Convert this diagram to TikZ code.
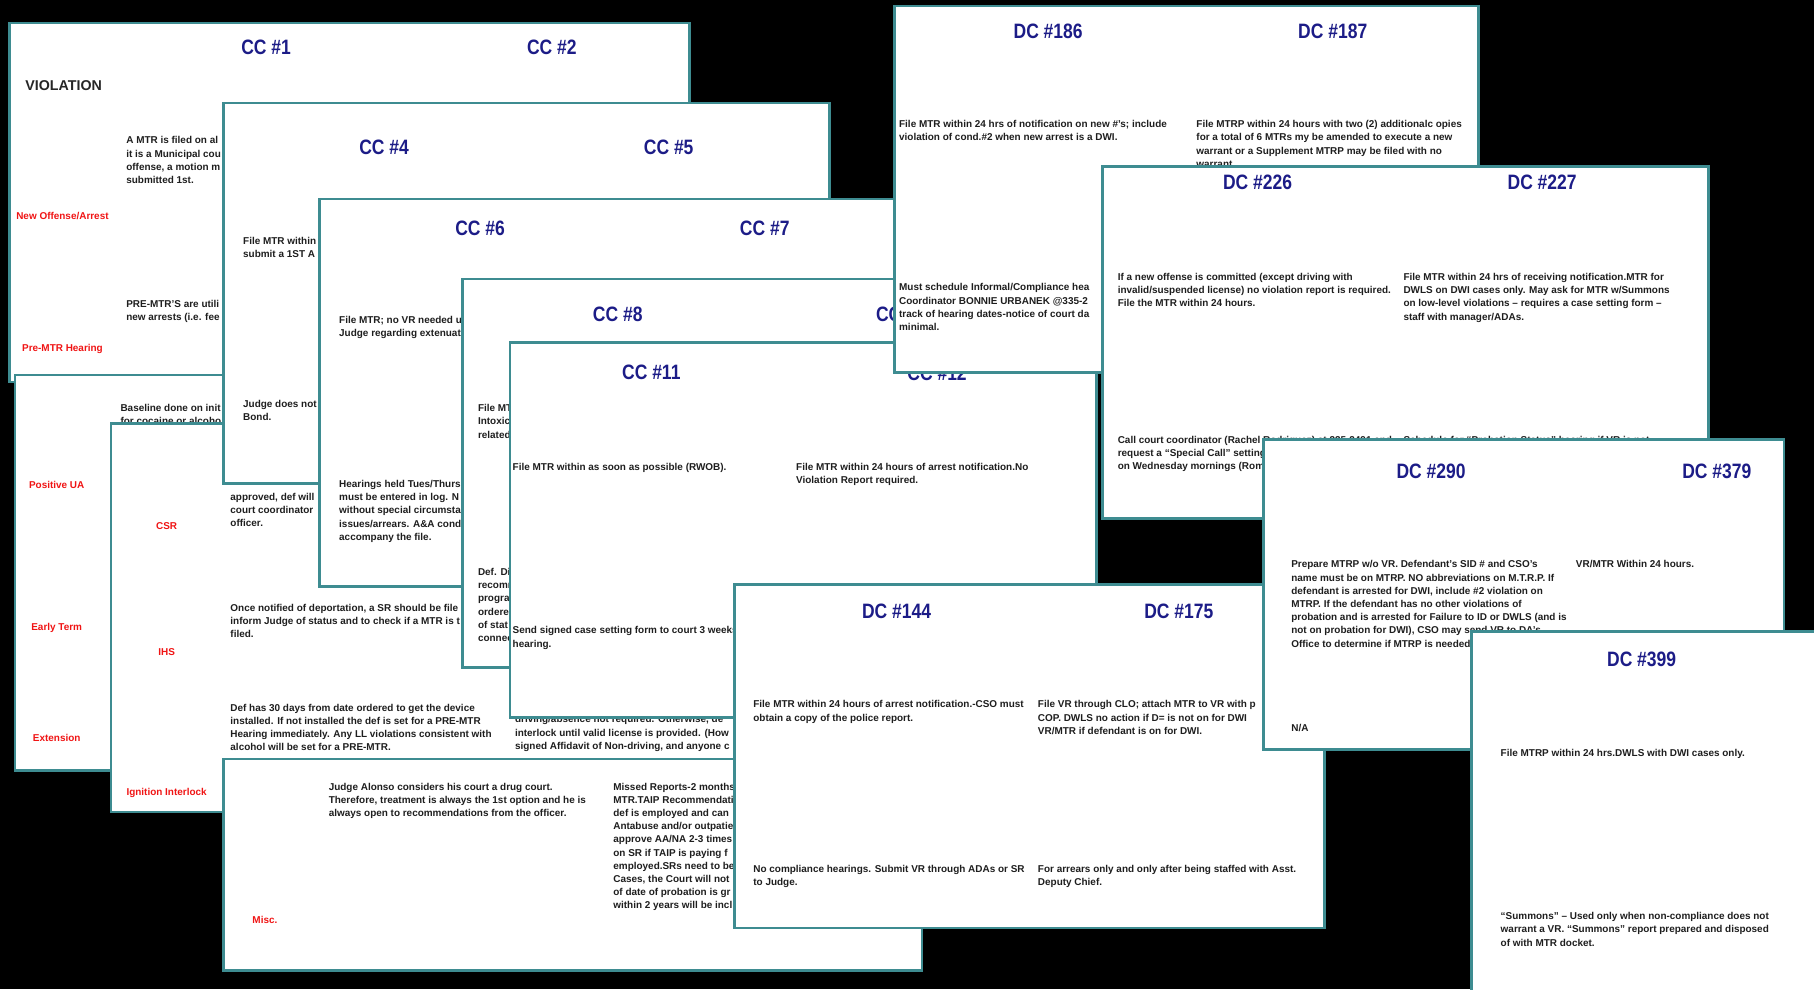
\documentclass[tikz,border=0pt]{standalone}
\usepackage{fontspec}
\setmainfont{Liberation Sans}
\newfontfamily\titlefont[FakeStretch=0.84]{Liberation Sans}
\definecolor{slideedge}{RGB}{62,140,145}
\definecolor{titleblue}{RGB}{28,28,135}
\definecolor{labelred}{RGB}{240,20,20}
\definecolor{bodytext}{RGB}{30,30,30}
\begin{document}
\begin{tikzpicture}[x=1pt,y=-1pt,
  slide/.style={fill=white, draw=slideedge, line width=2.2pt},
  ttl/.style={font=\titlefont\bfseries\fontsize{18}{20}\selectfont, text=titleblue, inner sep=0pt},
  body/.style={font=\bfseries\fontsize{8.6}{11.4}\selectfont, text=bodytext, anchor=north west, inner sep=0pt, align=left},
  lbl/.style={font=\bfseries\fontsize{8.6}{11}\selectfont, text=labelred, inner sep=0pt},
  viol/.style={font=\bfseries\fontsize{12.3}{14}\selectfont, text=black!85, inner sep=0pt}]
\useasboundingbox (0,0) rectangle (1568,855);
\fill[black] (0,0) rectangle (1568,855);
\clip (0,0) rectangle (1568,855);

% Slide A
\draw[slide] (8,20) rectangle (596,330);
\node[ttl] (a1) at (230,41) {CC \#1};
\node[ttl] (a2) at (477,41) {CC \#2};
\node[viol] (a3) at (55,74) {VIOLATION};
\node[body] (a4) at (109,118) {A MTR is filed on al\\it is a Municipal cou\\offense, a motion m\\submitted 1st.};
\node[lbl] (a5) at (54,187) {New Offense/Arrest};
\node[body] (a6) at (109,259.5) {PRE-MTR’S are utili\\new arrests (i.e. fee};
\node[lbl] (a7) at (54,302) {Pre-MTR Hearing};

% Slide D
\draw[slide] (13,324) rectangle (420,666);
\node[body] (d1) at (104,349.5) {Baseline done on init\\for cocaine or alcoho};
\node[lbl] (d2) at (49,419) {Positive UA};
\node[lbl] (d3) at (49,543) {Early Term};
\node[lbl] (d4) at (49,638) {Extension};

% Slide E
\draw[slide] (96,366) rectangle (700,702);
\node[lbl] (e1) at (144,455) {CSR};
\node[lbl] (e2) at (144,564) {IHS};
\node[lbl] (e3) at (144,685) {Ignition Interlock};
\node[body] (e4) at (199,426) {approved, def will\\court coordinator\\officer.};
\node[body] (e5) at (199,522) {Once notified of deportation, a SR should be file\\inform Judge of status and to check if a MTR is t\\filed.};
\node[body] (e6) at (199,608.5) {Def has 30 days from date ordered to get the device\\installed.  If not installed the def is set for a PRE-MTR\\Hearing immediately.  Any LL violations consistent with\\alcohol will be set for a PRE-MTR.};
\node[body] (e7) at (445,618.5) {driving/absence not required.  Otherwise, de\\interlock until valid license is provided.  (How\\signed Affidavit of Non-driving, and anyone c};

% Slide B
\draw[slide] (193,89) rectangle (717,418);
\node[ttl] (b1) at (332,127) {CC \#4};
\node[ttl] (b2) at (578,127) {CC \#5};
\node[body] (b3) at (210,204.5) {File MTR within\\submit a  1ST A};
\node[body] (b4) at (210,346) {Judge does not\\Bond.};

% Slide C
\draw[slide] (276,172) rectangle (850,507);
\node[ttl] (c1) at (415,197) {CC \#6};
\node[ttl] (c2) at (661,197) {CC \#7};
\node[body] (c3) at (293,273) {File MTR; no VR needed u\\Judge regarding extenuati};
\node[body] (c4) at (293,415) {Hearings held Tues/Thurs\\must be entered in log. N\\without special circumsta\\issues/arrears. A\&A cond\\accompany the file.};

% Slide G
\draw[slide] (400,241) rectangle (860,577);
\node[ttl] (g1) at (534,272) {CC \#8};
\node[ttl,anchor=west] (g2) at (757,272) {CC};
\node[body] (g3) at (413,349.5) {File MT\\Intoxic\\related};
\node[body] (g4) at (413,491) {Def. Di\\recomm\\progra\\ordere\\of stat\\connec};

% Slide H
\draw[slide] (441,296) rectangle (948,620);
\node[ttl] (h1) at (563,322) {CC \#11};
\node[ttl] (h2) at (810,323) {CC \#12};
\node[body] (h3) at (443,400) {File MTR within as soon as possible (RWOB).};
\node[body] (h4) at (688,400) {File MTR within 24 hours of arrest notification.No\\Violation Report required.};
\node[body] (h5) at (443,541.5) {Send signed case setting form to court 3 weeks\\hearing.};

% Slide I
\draw[slide] (773,5) rectangle (1278,322);
\node[ttl] (i1) at (906,27) {DC \#186};
\node[ttl] (i2) at (1152,27) {DC \#187};
\node[body] (i3) at (777,104) {File MTR within 24 hrs of notification on new \#’s; include\\violation of cond.\#2 when new arrest is a DWI.};
\node[body] (i4) at (1034,104) {File MTRP within 24 hours with two (2) additionalc opies\\for a total of 6 MTRs my be amended to execute a new\\warrant or a Supplement MTRP may be filed with no\\warrant.};
\node[body] (i5) at (777,245) {Must schedule Informal/Compliance hea\\Coordinator BONNIE URBANEK @335-2\\track of hearing dates-notice of court da\\minimal.};

% Slide J
\draw[slide] (953,144) rectangle (1477,448);
\node[ttl] (j1) at (1087,158) {DC \#226};
\node[ttl] (j2) at (1333,158) {DC \#227};
\node[body] (j3) at (966,236) {If a new offense is committed (except driving with\\invalid/suspended license) no violation report is required.\\File the MTR within 24 hours.};
\node[body] (j4) at (1213,236) {File MTR within 24 hrs of receiving notification.MTR for\\DWLS on DWI cases only.  May ask for MTR w/Summons\\on low-level violations – requires a case setting form –\\staff with manager/ADAs.};
\node[body] (j5) at (966,377) {Call court coordinator (Rachel Rodriguez) at 335-2491 and\\request a “Special Call” setting\\on Wednesday mornings (Rom};
\node[body] (j6) at (1213,377) {Schedule for “Probation Status” hearing if VR is not};

% Slide F
\draw[slide] (193,656) rectangle (797,839);
\node[body] (f1) at (284,676.5) {Judge Alonso considers his court a drug court.\\Therefore, treatment is always the 1st option and he is\\always open to recommendations from the officer.};
\node[lbl] (f2) at (229,795) {Misc.};
\node[body] (f3) at (530,676.5) {Missed Reports-2 months\\MTR.TAIP Recommendati\\def is employed and can\\Antabuse and/or outpatie\\approve AA/NA 2-3 times\\on SR if TAIP is paying f\\employed.SRs need to be\\Cases, the Court will not\\of date of probation is gr\\within 2 years will be incl};

% Slide M
\draw[slide] (635,505) rectangle (1145,802);
\node[ttl] (m1) at (775,528) {DC \#144};
\node[ttl] (m2) at (1019,528) {DC \#175};
\node[body] (m3) at (651,605.5) {File MTR within 24 hours of arrest notification.-CSO must\\obtain a copy of the police report.};
\node[body] (m4) at (897,605.5) {File VR through CLO; attach MTR to VR with p\\COP.  DWLS no action if D= is not on for DWI\\VR/MTR if defendant is on for DWI.};
\node[body] (m5) at (651,748) {No compliance hearings.  Submit VR through ADAs or SR\\to Judge.};
\node[body] (m6) at (897,748) {For arrears only and only after being staffed with Asst.\\Deputy Chief.};

% Slide K
\draw[slide] (1092,380) rectangle (1542,648);
\node[ttl] (k1) at (1237,407) {DC \#290};
\node[ttl] (k2) at (1484,407) {DC \#379};
\node[body] (k3) at (1116,484.5) {Prepare MTRP w/o VR.  Defendant’s SID \# and CSO’s\\name must be on MTRP.  NO abbreviations on M.T.R.P.  If\\defendant is arrested for DWI, include \#2 violation on\\MTRP. If the defendant has no other violations of\\probation and is arrested for Failure to ID or DWLS (and is\\not on probation for DWI), CSO may send VR to DA’s\\Office to determine if MTRP is needed.};
\node[body] (k4) at (1362,484.5) {VR/MTR Within 24 hours.};
\node[body] (k5) at (1116,626) {N/A};

% Slide L
\draw[slide] (1272,546) rectangle (1600,900);
\node[ttl] (l1) at (1419,570) {DC \#399};
\node[body] (l2) at (1297,647.5) {File MTRP within 24 hrs.DWLS with DWI cases only.};
\node[body] (l3) at (1297,788.5) {“Summons” – Used only when non-compliance does not\\warrant a VR. “Summons” report prepared and disposed\\of with MTR docket.};
\end{tikzpicture}
\end{document}
